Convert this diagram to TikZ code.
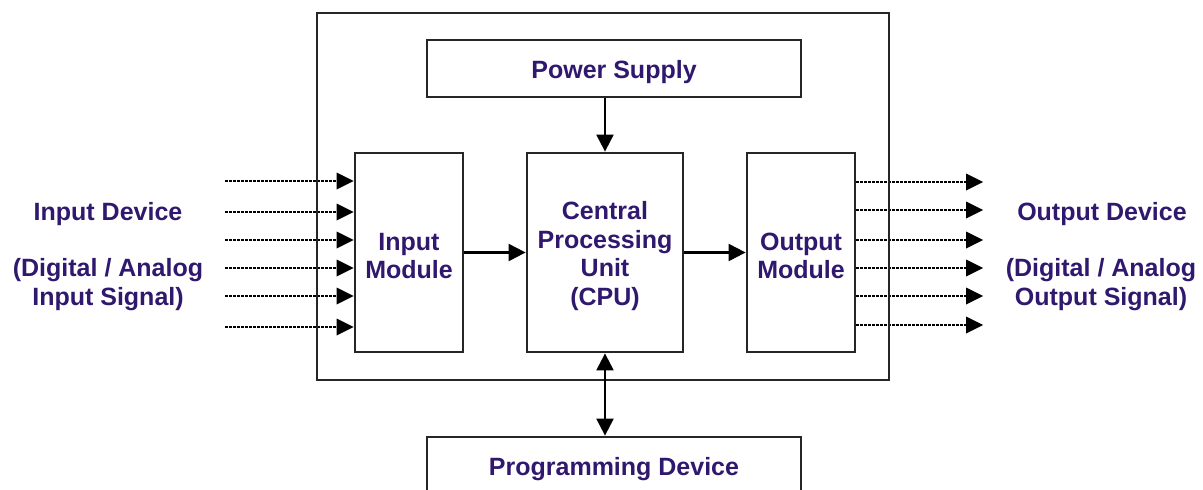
\documentclass[tikz,border=0pt]{standalone}
\usepackage{fontspec}
\setmainfont{Liberation Sans}
\usetikzlibrary{arrows.meta}
\definecolor{txt}{RGB}{48,24,110}
\pgfdeclarelayer{back}
\pgfsetlayers{back,main}
\begin{document}
\begin{tikzpicture}[x=1pt,y=-1pt,
  lbl/.style={font=\fontsize{25}{28.5}\selectfont\bfseries, text=txt, align=center, inner sep=0pt},
  blk/.style={draw=black!85, line width=2.8pt, rectangle, inner sep=0pt},
  txtin/.style={lbl, yshift=-3.5pt},
  arr/.style={line width=2.2pt, -{Triangle[length=17pt,width=17pt]}},
  darr/.style={line width=2.2pt, {Triangle[length=17pt,width=17pt]}-{Triangle[length=17pt,width=17pt]}},
  dotarr/.style={line width=2.6pt, dash pattern=on 2.6pt off 1.4pt, -{Triangle[length=17pt,width=17pt,line width=0pt]}}
]
\path[use as bounding box, clip] (0,0) rectangle (1203,490);

\node[blk, minimum width=572pt, minimum height=367pt] (outer) at (603,196.5) {};
\node[blk, fill=white, minimum width=374pt, minimum height=57pt,
  label={[txtin]center:Power Supply}] (power) at (614,68.5) {};
\node[blk, fill=white, minimum width=108pt, minimum height=199pt,
  label={[txtin]center:{Input\\Module}}] (in) at (409,252.5) {};
\node[blk, fill=white, minimum width=156pt, minimum height=199pt,
  label={[txtin]center:{Central\\Processing\\Unit\\(CPU)}}] (cpu) at (605,252.5) {};
\node[blk, fill=white, minimum width=108pt, minimum height=199pt,
  label={[txtin]center:{Output\\Module}}] (out) at (801,252.5) {};
\node[blk, fill=white, minimum width=374pt, minimum height=58pt,
  label={[txtin]center:Programming Device}] (prog) at (614,466) {};

\draw[arr] (power.south -| cpu.north) -- (cpu.north);
\draw[darr] (cpu.south) -- (cpu.south |- prog.north);
\draw[arr] (in.east) -- (cpu.west);
\draw[arr] (cpu.east) -- (out.west);

\begin{pgfonlayer}{back}
\foreach \y [count=\i] in {181,212,240,268,296,327}{
  \coordinate (i\i) at (225,\y);
  \draw[dotarr] (i\i) -- (i\i -| in.west);
}
\foreach \y [count=\i] in {182,210,240,268,296,325}{
  \coordinate (o\i) at (983,\y);
  \draw[dotarr] (o\i -| out.east) -- (o\i);
}
\end{pgfonlayer}

\node[lbl] (indev) at (108,214) {Input Device};
\node[lbl] (insig) at (108,284.5) {(Digital / Analog\\Input Signal)};
\node[lbl] (outdev) at (1102,214) {Output Device};
\node[lbl] (outsig) at (1101,284.5) {(Digital / Analog\\Output Signal)};
\end{tikzpicture}
\end{document}
